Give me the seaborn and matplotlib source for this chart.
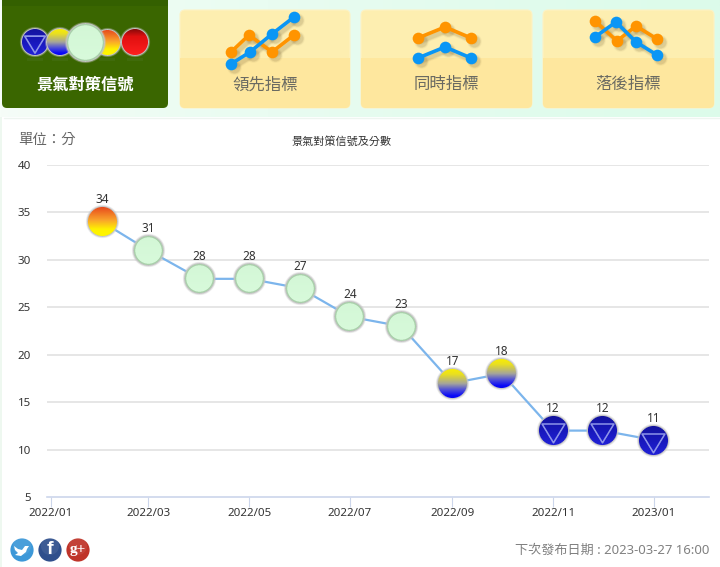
import matplotlib
matplotlib.use("Agg")
import matplotlib.pyplot as plt
import matplotlib.dates as mdates
from matplotlib.colors import to_rgb
from matplotlib.offsetbox import AnnotationBbox, OffsetImage
from matplotlib.patches import Circle, FancyBboxPatch, Rectangle
import numpy as np
import pandas as pd
import seaborn as sns

# values
months = ["2022-02-01", "2022-03-01", "2022-04-01", "2022-05-01", "2022-06-01", "2022-07-01",
          "2022-08-01", "2022-09-01", "2022-10-01", "2022-11-01", "2022-12-01", "2023-01-01"]
scores = [34, 31, 28, 28, 27, 24, 23, 17, 18, 12, 12, 11]
signals = ["orange", "green", "green", "green", "green", "green",
           "green", "yellow", "yellow", "blue", "blue", "blue"]
x_ticks = ["2022-01-01", "2022-03-01", "2022-05-01", "2022-07-01", "2022-09-01", "2022-11-01", "2023-01-01"]
y_ticks = [5, 10, 15, 20, 25, 30, 35, 40]

# little line icons on the three yellow tabs
tab_names = ["領先指標", "同時指標", "落後指標"]
tab_boxes = [(180, 350), (361, 532), (543, 714)]
icon_orange = [[(231, 52), (249, 35), (272, 52), (294, 35)],
               [(418, 38), (445, 27), (471, 38)],
               [(595, 21), (617, 41), (636, 26), (657, 39)]]
icon_blue = [[(231, 64), (250, 52), (272, 34), (294, 17)],
             [(418, 58), (445, 47), (471, 58)],
             [(595, 37), (616, 22), (636, 42), (657, 55)]]

BALL_COLORS = {
    "orange": [(0, "#e6431c"), (0.45, "#f9a32c"), (0.75, "#fff200"), (1, "#fff700")],
    "yellow": [(0, "#fbf000"), (0.2, "#e9df20"), (0.5, "#a5a59a"), (0.7, "#5050d8"), (0.9, "#0808f8"), (1, "#0808f0")],
    "green": [(0, "#d3f7d6"), (1, "#d8fadb")],
    "blue": [(0, "#14149c"), (0.5, "#1818bc"), (1, "#2222d8")],
    "red": [(0, "#7a0808"), (0.3, "#e01010"), (1, "#ff2020")],
}


def seg_dist(px, py, a, b):
    ax_, ay_ = a
    bx_, by_ = b
    dx, dy = bx_ - ax_, by_ - ay_
    t = np.clip(((px - ax_) * dx + (py - ay_) * dy) / (dx * dx + dy * dy), 0, 1)
    return np.hypot(px - ax_ - t * dx, py - ay_ - t * dy)


def ball_image(kind, r):
    # drawn at 4x then averaged down so the edge stays smooth
    ss = 4
    n = int(2 * r + 6)
    c = np.linspace(-n / 2, n / 2, n * ss)
    px, py = np.meshgrid(c, c)
    dist = np.hypot(px, py)
    stops = BALL_COLORS[kind]
    t = np.clip((py + r) / (2 * r), 0, 1)
    rgb = np.dstack([np.interp(t, [s[0] for s in stops], [to_rgb(s[1])[i] for s in stops]) for i in range(3)])
    if kind == "green":
        rgb[dist > r - 2.2] = to_rgb("#a9d0aa")
    rgb[dist > r - 0.9] = to_rgb("#c4c4c4")
    if kind == "blue":
        corners = [(-0.74 * r, -0.42 * r), (0.74 * r, -0.42 * r), (0, 0.8 * r)]
        tri = np.minimum.reduce([seg_dist(px, py, corners[i], corners[(i + 1) % 3]) for i in range(3)])
        rgb[tri < 0.8] = to_rgb("#8f96ea")
    alpha = np.clip(r + 1.5 - dist, 0, 1)
    alpha[dist > r] *= 0.5
    img = np.dstack([rgb, alpha])
    return img.reshape(n, ss, n, ss, 4).mean(axis=(1, 3))


def add_ball(ax, x, y, kind, r, zorder=5):
    box = OffsetImage(ball_image(kind, r), zoom=1, dpi_cor=False)
    ax.add_artist(AnnotationBbox(box, (x, y), frameon=False, pad=0, zorder=zorder,
                                 annotation_clip=False))


sns.set_theme(style="white")
plt.rcParams["font.family"] = ["Noto Sans", "Noto Sans CJK TC", "DejaVu Sans"]
cjk = ["Noto Sans CJK TC", "DejaVu Sans"]

fig = plt.figure(figsize=(7.2, 5.67), dpi=100, facecolor="white")

# page layer in pixel coordinates: header tabs, icons, footer
page = fig.add_axes([0, 0, 1, 1], zorder=0)
page.set_xlim(0, 720)
page.set_ylim(567, 0)
page.axis("off")

bg = np.linspace(0, 1, 256).reshape(1, -1, 1) ** 0.7
bg = (1 - bg) * np.array(to_rgb("#f6fdf8")) + bg * np.array(to_rgb("#dcfbea"))
page.imshow(bg, extent=(0, 720, 117, 0), aspect="auto", zorder=0)
page.set_xlim(0, 720)
page.set_ylim(567, 0)
page.add_patch(Rectangle((0, 117), 2, 450, color="#eef8f0", lw=0, zorder=1))
page.add_patch(Rectangle((2, 117), 718, 450, color="white", lw=0, zorder=1))
page.plot([4, 720], [117.5, 117.5], color="#eef5f0", lw=1, zorder=1)

# selected tab
page.add_patch(FancyBboxPatch((2, -8), 166, 116, boxstyle="round,pad=0,rounding_size=5",
                              fc="#3a6600", ec="none", zorder=2))
page.add_patch(Rectangle((2, 0), 166, 6, color="#346000", lw=0, zorder=2))
for cx, kind, r in [(35, "blue", 14), (60, "yellow", 14), (107, "orange", 13.5), (135, "red", 14)]:
    page.add_patch(Rectangle((cx - 8, 58), 16, 3, color="#4d7520", lw=0, alpha=0.35, zorder=2))
    add_ball(page, cx, 42.5, kind, r, zorder=3)
add_ball(page, 85, 43, "green", 19.5, zorder=4)
page.text(85.7, 85.2, "景氣對策信號", color="#5b7d33", fontsize=11.7, fontweight="bold", family=cjk,
          ha="center", va="center", zorder=4)
page.text(85, 84.5, "景氣對策信號", color="white", fontsize=11.7, fontweight="bold", family=cjk,
          ha="center", va="center", zorder=5)

# yellow tabs
for (x0, x1), name, orange, blue in zip(tab_boxes, tab_names, icon_orange, icon_blue):
    frame = FancyBboxPatch((x0, 10), x1 - x0, 98, boxstyle="round,pad=0,rounding_size=5",
                           fc="#fdeeb0", ec="#fdf2c4", lw=0.8, zorder=2)
    page.add_patch(frame)
    lower = Rectangle((x0, 58), x1 - x0, 50, color="#fee79e", lw=0, zorder=2)
    page.add_patch(lower)
    lower.set_clip_path(frame)
    for pts in (orange, blue):
        xs, ys = zip(*pts)
        xs, ys = np.array(xs), np.array(ys)
        for grow, a in [(3.6, 0.05), (2.4, 0.08), (1.4, 0.1)]:
            page.plot(xs + 3, ys + 3, color="#6e5a30", lw=1.8 + grow, alpha=a, zorder=3,
                      marker="o", ms=7 + grow, mew=0, solid_capstyle="round")
    for pts, color in [(orange, "#ff9400"), (blue, "#0a96f5")]:
        xs, ys = zip(*pts)
        page.plot(xs, ys, color=color, lw=2.6, marker="o", ms=8.4, mew=0, zorder=4)
    page.text((x0 + x1) / 2, 85, name, color="#6a6a62", fontsize=11.8, family=cjk,
              ha="center", va="center", zorder=5)

page.text(18, 140, "單位：分", color="#666666", fontsize=10.4, family=cjk, ha="left", va="center", zorder=5)
page.text(342, 141, "景氣對策信號及分數", color="#333333", fontsize=8, family=cjk, ha="center", va="center", zorder=5)
page.text(709, 550, "下次發布日期 : 2023-03-27 16:00", color="#808080", fontsize=9.45, ha="right", va="center", zorder=5)

# social buttons
for cx, color, glyph, fam, size in [(22, "#3d98d8", "", "serif", 10),
                                    (50, "#2f4f8c", "f", "Liberation Sans", 14),
                                    (78, "#bf3429", "g+", "Liberation Serif", 11)]:
    page.add_patch(Circle((cx, 550), 11.6, fc=color, ec="none", zorder=3))
    page.add_patch(Circle((cx, 546), 9, fc="white", ec="none", alpha=0.07, zorder=3))
    if glyph:
        page.text(cx, 549.5, glyph, color="white", fontsize=size, family=fam, fontweight="bold",
                  ha="center", va="center", zorder=4)
page.fill([14, 18, 22, 25, 29, 27, 26, 21, 15, 18, 15],
          [546, 549, 550, 546, 546, 549, 552, 556, 555, 553, 550], color="white", lw=0, zorder=4)

# chart
df = pd.DataFrame({"date": pd.to_datetime(months), "score": scores})
ax = fig.add_axes([47 / 720, 70 / 567, 662 / 720, 332 / 567], zorder=1)
ax.patch.set_alpha(0)
ax.grid(False)
for v in y_ticks[1:]:
    ax.axhline(v, color="#e2e2e2", lw=1.2, zorder=1)
sns.lineplot(data=df, x="date", y="score", color="#7cb5ec", lw=1.6, ax=ax, zorder=2)

ax.set_xlim(pd.Timestamp("2021-12-29 14:00"), pd.Timestamp("2023-02-03 08:00"))
ax.set_ylim(5, 40)
ax.set_xlabel("")
ax.set_ylabel("")
ax.set_yticks(y_ticks)
ax.set_xticks(pd.to_datetime(x_ticks))
ax.xaxis.set_major_formatter(mdates.DateFormatter("%Y/%m"))
ax.tick_params(axis="y", length=0, pad=11.5, labelsize=8.3, labelcolor="#333333")
ax.tick_params(axis="x", length=7.2, width=0.8, color="#ccd6eb", pad=1, labelsize=8.3, labelcolor="#333333",
               bottom=True)
for side in ["top", "left", "right"]:
    ax.spines[side].set_visible(False)
ax.spines["bottom"].set_color("#ccd6eb")
ax.spines["bottom"].set_linewidth(1.2)

for date, score, kind in zip(df["date"], df["score"], signals):
    xnum = mdates.date2num(date)
    add_ball(ax, xnum, score, kind, 15.5)
    ax.annotate(str(score), (xnum, score), xytext=(0, 15.8), textcoords="offset points",
                ha="center", va="center", fontsize=8.5, color="#333333", zorder=6)

fig.savefig("out.png", dpi=100)
